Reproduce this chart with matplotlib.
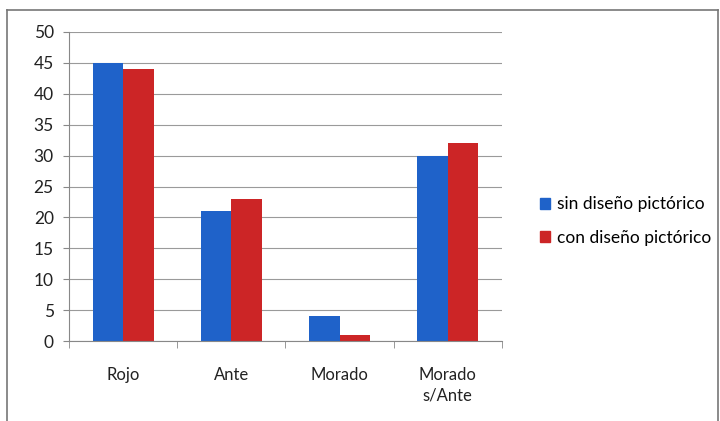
import matplotlib.pyplot as plt
import numpy as np
from matplotlib.patches import Patch
from matplotlib.lines import Line2D

# 数据
categories = ["Rojo", "Ante", "Morado", "Morado\ns/Ante"]
sin_diseno = [45, 21, 4, 30]
con_diseno = [44, 23, 1, 32]
series_names = ["sin diseño pictórico", "con diseño pictórico"]

blue = "#1f62c9"
red = "#cc2526"

plt.rcParams["font.family"] = ["Lato", "DejaVu Sans"]

fig = plt.figure(figsize=(7.2, 4.21), dpi=100)
ax = fig.add_axes([0.096, 0.19, 0.601, 0.734])

x = np.arange(len(categories))
w = 0.28
ax.bar(x - w / 2, sin_diseno, w, color=blue, label=series_names[0])
ax.bar(x + w / 2, con_diseno, w, color=red, label=series_names[1])

ax.set_xlim(-0.5, len(categories) - 0.5)
ax.set_ylim(0, 50)
ax.set_yticks(range(0, 51, 5))
ax.yaxis.grid(True, color="#9a9a9a", linewidth=0.8)
ax.set_axisbelow(True)

# 类别刻度放在分组之间
ax.set_xticks(x)
ax.set_xticklabels(categories, fontsize=12, color="#222222", linespacing=1.3)
ax.set_xticks(np.arange(-0.5, len(categories)), minor=True)
ax.tick_params(axis="x", which="major", length=0, pad=19)
ax.tick_params(axis="x", which="minor", length=5, color="#888888", direction="out")
ax.tick_params(axis="y", labelsize=12.5, colors="#222222", length=4, color="#888888", pad=7)

for s in ["top", "right"]:
    ax.spines[s].set_visible(False)
ax.spines["left"].set_color("#888888")
ax.spines["bottom"].set_color("#888888")

# 图例
handles = [Patch(color=blue), Patch(color=red)]
fig.legend(handles, series_names, loc="center left", bbox_to_anchor=(0.728, 0.475),
           frameon=False, fontsize=12.5, handlelength=0.6, handleheight=0.6,
           handletextpad=0.4, labelspacing=1.0)

# 外框
fig.add_artist(Line2D([0.01, 0.01], [0.0, 0.976], color="#777777", lw=1.2, transform=fig.transFigure))
fig.add_artist(Line2D([0.01, 0.997], [0.976, 0.976], color="#777777", lw=1.2, transform=fig.transFigure))
fig.add_artist(Line2D([0.997, 0.997], [0.0, 0.976], color="#777777", lw=1.2, transform=fig.transFigure))

fig.savefig("out.png", dpi=100)
